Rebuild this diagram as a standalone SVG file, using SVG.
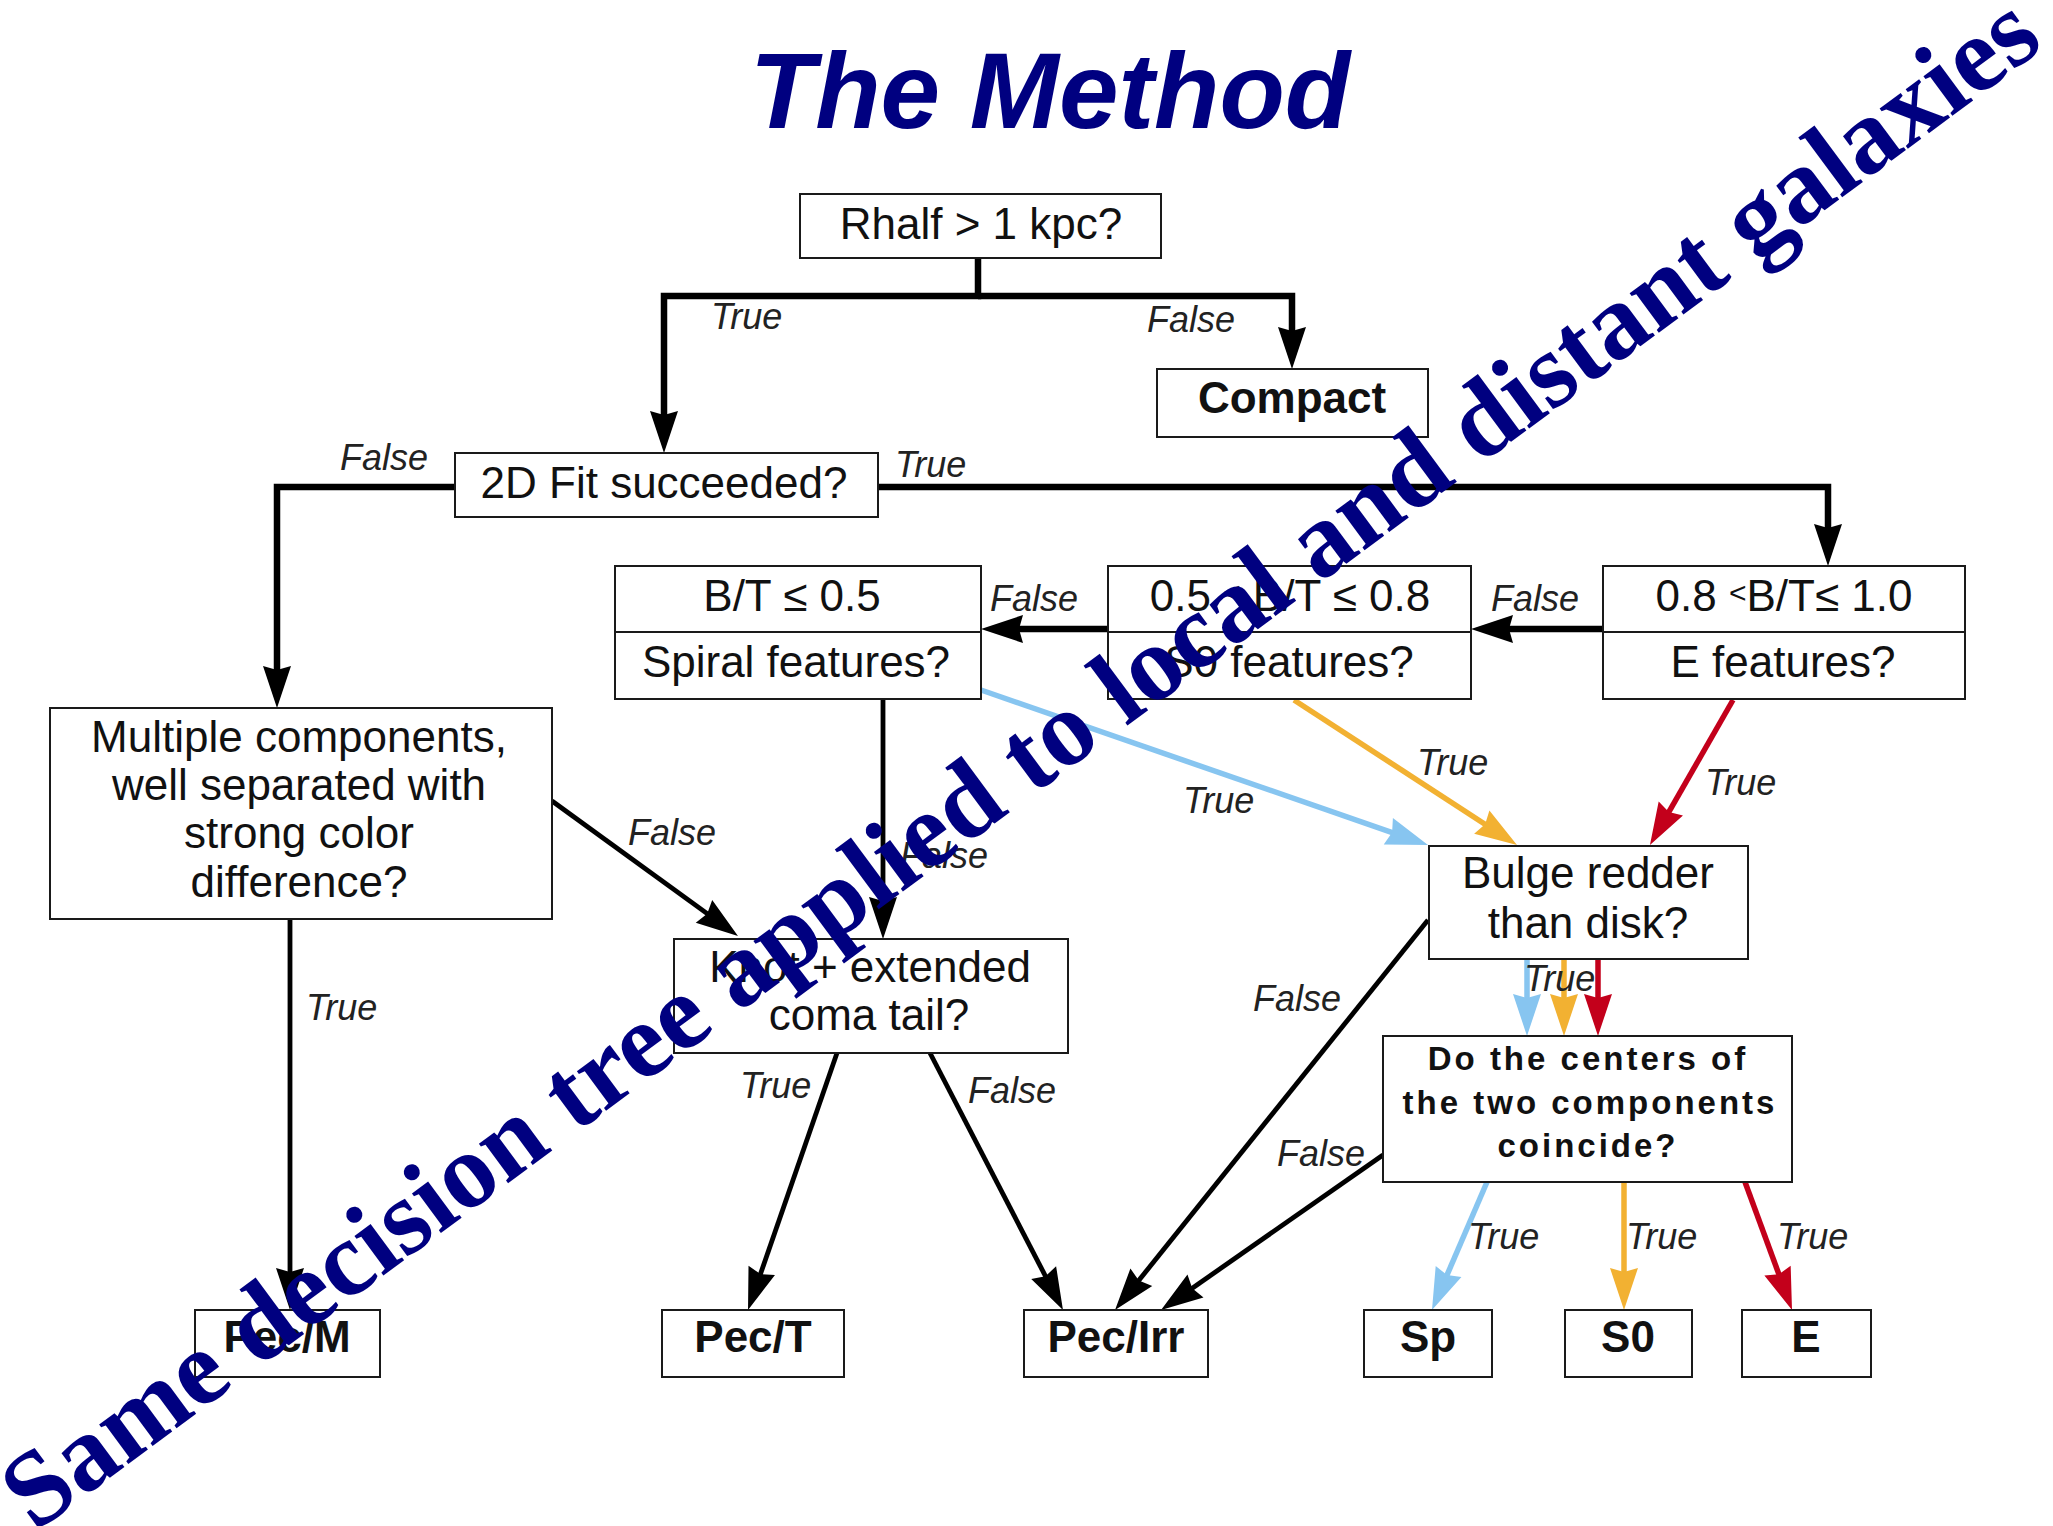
<svg xmlns="http://www.w3.org/2000/svg" width="2053" height="1526" viewBox="0 0 2053 1526">
  <style>
    .box { fill: #fff; stroke: #1a1a1a; stroke-width: 2; }
    .t { font-family: "Liberation Sans", Arial, sans-serif; font-size: 44px; fill: #111; text-anchor: middle; }
    .bold { font-weight: bold; }
    .small { font-size: 33px; letter-spacing: 3px; }
    .lbl { font-family: "Liberation Sans", Arial, sans-serif; font-size: 36px; font-style: italic; fill: #222; }
    .thick { fill: none; stroke: #000; stroke-width: 6.5; }
    .thin { fill: none; stroke: #000; stroke-width: 4.8; }
    .blue { fill: none; stroke: #87c5f0; stroke-width: 5.5; }
    .orange { fill: none; stroke: #f2b132; stroke-width: 5.5; }
    .red { fill: none; stroke: #c3001b; stroke-width: 5.5; }
    .title { font-family: "Liberation Sans", Arial, sans-serif; font-size: 107px; font-weight: bold; font-style: italic; fill: #000080; text-anchor: middle; }
    .mark { font-family: "Liberation Serif", "Times New Roman", serif; font-size: 107px; font-weight: bold; fill: #000080; }
  </style>
  <defs>
    <marker id="ahBlack" markerUnits="userSpaceOnUse" orient="auto" overflow="visible" markerWidth="1" markerHeight="1" refX="0" refY="0">
      <path d="M18,0 L-24,-14 L-20,0 L-24,14 Z" fill="#000"/>
    </marker>
    <marker id="ahBlue" markerUnits="userSpaceOnUse" orient="auto" overflow="visible" markerWidth="1" markerHeight="1" refX="0" refY="0">
      <path d="M18,0 L-24,-14 L-20,0 L-24,14 Z" fill="#87c5f0"/>
    </marker>
    <marker id="ahOrange" markerUnits="userSpaceOnUse" orient="auto" overflow="visible" markerWidth="1" markerHeight="1" refX="0" refY="0">
      <path d="M18,0 L-24,-14 L-20,0 L-24,14 Z" fill="#f2b132"/>
    </marker>
    <marker id="ahRed" markerUnits="userSpaceOnUse" orient="auto" overflow="visible" markerWidth="1" markerHeight="1" refX="0" refY="0">
      <path d="M18,0 L-24,-14 L-20,0 L-24,14 Z" fill="#c3001b"/>
    </marker>
  </defs>

  <rect width="2053" height="1526" fill="#fff"/>

  <text class="title" x="1050" y="128">The Method</text>

  <!-- connectors -->
  <g id="connectors">
    <path class="thick" d="M978,258 V296 H664 V435" marker-end="url(#ahBlack)"/>
    <path class="thick" d="M978,296 H1292 V351" marker-end="url(#ahBlack)"/>
    <path class="thick" d="M455,487 H277 V690" marker-end="url(#ahBlack)"/>
    <path class="thick" d="M878,487 H1828 V548" marker-end="url(#ahBlack)"/>
    <path class="thick" d="M1603,629 H1489" marker-end="url(#ahBlack)"/>
    <path class="thick" d="M1108,629 H999" marker-end="url(#ahBlack)"/>

    <path class="thin" d="M883,700 V921" marker-end="url(#ahBlack)"/>
    <path class="thin" d="M552,801 L723.4,925.4" marker-end="url(#ahBlack)"/>
    <path class="thin" d="M290,919 V1292" marker-end="url(#ahBlack)"/>
    <path class="thin" d="M837,1053 L753.9,1293" marker-end="url(#ahBlack)"/>
    <path class="thin" d="M930,1053 L1054.7,1294" marker-end="url(#ahBlack)"/>
    <path class="thin" d="M1428,920 L1126.3,1296" marker-end="url(#ahBlack)"/>
    <path class="thin" d="M1383,1155 L1175.8,1299.7" marker-end="url(#ahBlack)"/>

    <path class="blue" d="M981,690 L1411,839.1" marker-end="url(#ahBlue)"/>
    <path class="orange" d="M1294,700 L1501.9,835.2" marker-end="url(#ahOrange)"/>
    <path class="red" d="M1733,700 L1658.9,829.4" marker-end="url(#ahRed)"/>

    <path class="blue" d="M1527,959 V1018" marker-end="url(#ahBlue)"/>
    <path class="orange" d="M1564,959 V1018" marker-end="url(#ahOrange)"/>
    <path class="red" d="M1598,959 V1018" marker-end="url(#ahRed)"/>

    <path class="blue" d="M1487,1182 L1439.1,1293.5" marker-end="url(#ahBlue)"/>
    <path class="orange" d="M1624,1182 V1292" marker-end="url(#ahOrange)"/>
    <path class="red" d="M1745,1182 L1785.8,1293.1" marker-end="url(#ahRed)"/>

    <!-- branch labels -->
    <text class="lbl" x="711" y="329">True</text>
    <text class="lbl" x="1147" y="332">False</text>
    <text class="lbl" x="340" y="470">False</text>
    <text class="lbl" x="895" y="477">True</text>
    <text class="lbl" x="1491" y="611">False</text>
    <text class="lbl" x="990" y="611">False</text>
    <text class="lbl" x="1183" y="813">True</text>
    <text class="lbl" x="1417" y="775">True</text>
    <text class="lbl" x="1705" y="795">True</text>
    <text class="lbl" x="628" y="845">False</text>
    <text class="lbl" x="900" y="868">False</text>
    <text class="lbl" x="306" y="1020">True</text>
    <text class="lbl" x="740" y="1098">True</text>
    <text class="lbl" x="968" y="1103">False</text>
    <text class="lbl" x="1253" y="1011">False</text>
    <text class="lbl" x="1277" y="1166">False</text>
    <text class="lbl" x="1524" y="991">True</text>
    <text class="lbl" x="1468" y="1249">True</text>
    <text class="lbl" x="1626" y="1249">True</text>
    <text class="lbl" x="1777" y="1249">True</text>
  </g>

  <!-- decision nodes -->
  <g id="rhalf">
    <rect class="box" x="800" y="194" width="361" height="64"/>
    <text class="t" x="981" y="239">Rhalf &gt; 1 kpc?</text>
  </g>
  <g id="compact">
    <rect class="box" x="1157" y="369" width="271" height="68"/>
    <text class="t bold" x="1292" y="413">Compact</text>
  </g>
  <g id="fit2d">
    <rect class="box" x="455" y="453" width="423" height="64"/>
    <text class="t" x="664" y="498">2D Fit succeeded?</text>
  </g>
  <g id="bt-low">
    <rect class="box" x="615" y="566" width="366" height="133"/>
    <line x1="615" y1="632" x2="981" y2="632" stroke="#1a1a1a" stroke-width="2"/>
    <text class="t" x="792" y="611">B/T ≤ 0.5</text>
    <text class="t" x="796" y="677">Spiral features?</text>
  </g>
  <g id="bt-mid">
    <rect class="box" x="1108" y="566" width="363" height="133"/>
    <line x1="1108" y1="632" x2="1471" y2="632" stroke="#1a1a1a" stroke-width="2"/>
    <text class="t" x="1290" y="611">0.5 <tspan font-size="30" dy="-8">&lt;</tspan><tspan dy="8"> B/T ≤ 0.8</tspan></text>
    <text class="t" x="1289" y="677">S0 features?</text>
  </g>
  <g id="bt-high">
    <rect class="box" x="1603" y="566" width="362" height="133"/>
    <line x1="1603" y1="632" x2="1965" y2="632" stroke="#1a1a1a" stroke-width="2"/>
    <text class="t" x="1784" y="611">0.8 <tspan font-size="30" dy="-8">&lt;</tspan><tspan dy="8">B/T≤ 1.0</tspan></text>
    <text class="t" x="1783" y="677">E features?</text>
  </g>
  <g id="multiple">
    <rect class="box" x="50" y="708" width="502" height="211"/>
    <text class="t" x="299" y="752">Multiple components,</text>
    <text class="t" x="299" y="800">well separated with</text>
    <text class="t" x="299" y="848">strong color</text>
    <text class="t" x="299" y="897">difference?</text>
  </g>
  <g id="knot">
    <rect class="box" x="674" y="939" width="394" height="114"/>
    <text class="t" x="870" y="982">Knot + extended</text>
    <text class="t" x="869" y="1030">coma tail?</text>
  </g>
  <g id="bulge">
    <rect class="box" x="1429" y="846" width="319" height="113"/>
    <text class="t" x="1588" y="888">Bulge redder</text>
    <text class="t" x="1588" y="938">than disk?</text>
  </g>
  <g id="centers">
    <rect class="box" x="1383" y="1036" width="409" height="146"/>
    <text class="t bold small" x="1588" y="1070">Do the centers of</text>
    <text class="t bold small" x="1590" y="1114">the two components</text>
    <text class="t bold small" x="1588" y="1157">coincide?</text>
  </g>

  <!-- final classes -->
  <g id="pec-m">
    <rect class="box" x="195" y="1310" width="185" height="67"/>
    <text class="t bold" x="287" y="1352">Pec/M</text>
  </g>
  <g id="pec-t">
    <rect class="box" x="662" y="1310" width="182" height="67"/>
    <text class="t bold" x="753" y="1352">Pec/T</text>
  </g>
  <g id="pec-irr">
    <rect class="box" x="1024" y="1310" width="184" height="67"/>
    <text class="t bold" x="1116" y="1352">Pec/Irr</text>
  </g>
  <g id="sp">
    <rect class="box" x="1364" y="1310" width="128" height="67"/>
    <text class="t bold" x="1428" y="1352">Sp</text>
  </g>
  <g id="s0">
    <rect class="box" x="1565" y="1310" width="127" height="67"/>
    <text class="t bold" x="1628" y="1352">S0</text>
  </g>
  <g id="e">
    <rect class="box" x="1742" y="1310" width="129" height="67"/>
    <text class="t bold" x="1806" y="1352">E</text>
  </g>

  <!-- diagonal caption across the chart -->
  <text class="mark" x="35" y="1533" transform="rotate(-36.47 35 1533)">Same decision tree applied to local and distant galaxies</text>
</svg>
